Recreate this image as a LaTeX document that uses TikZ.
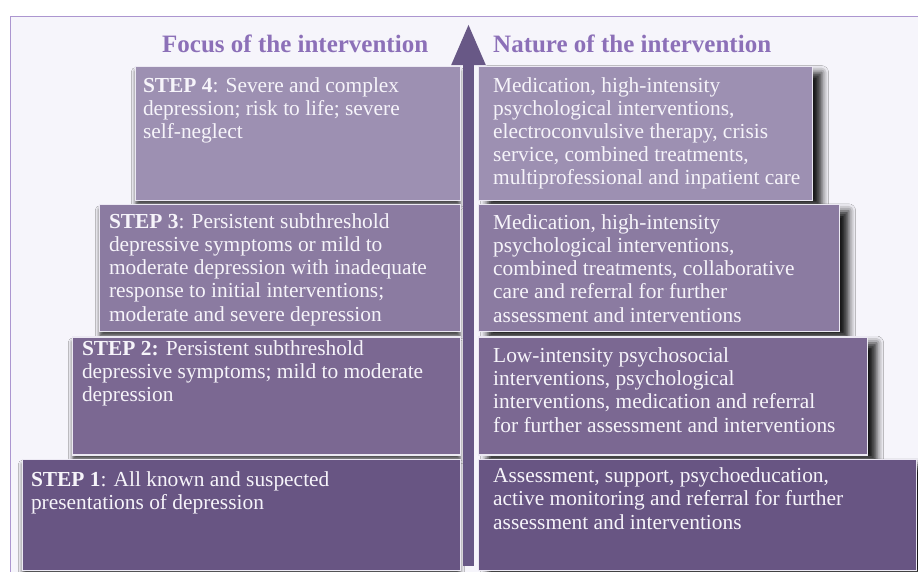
\documentclass[tikz,border=0pt]{standalone}
\usepackage{fontspec}
\setmainfont{Liberation Serif}
\usepackage{tikz}
\usetikzlibrary{
    arrows.meta,
    positioning,
    shadows.blur
}
\definecolor{stepfour}{RGB}{157,144,178}
\definecolor{stepthree}{RGB}{139,123,161}
\definecolor{steptwo}{RGB}{123,104,146}
\definecolor{stepone}{RGB}{104,85,131}
\definecolor{stairarrow}{RGB}{104,88,134}
\definecolor{stairhead}{RGB}{140,112,184}
\definecolor{stairframe}{RGB}{172,150,208}
\definecolor{stairback}{RGB}{246,245,251}
\definecolor{stairedge}{RGB}{236,233,243}
\definecolor{stairtext}{RGB}{246,244,250}

\begin{document}
\begin{tikzpicture}[
        x=1pt, y=-1pt,
        stairbox/.style={
            draw=stairedge,
            line width=1.2pt,
            inner sep=0pt
        },
        focusbox/.style={
            stairbox,
            blur shadow={shadow xshift=0pt, shadow yshift=-5pt,
                shadow blur radius=4pt, shadow opacity=70}
        },
        naturebox/.style={
            stairbox,
            blur shadow={shadow xshift=9pt, shadow yshift=-6pt,
                shadow blur radius=7pt, shadow opacity=90}
        },
        boxtext/.style={
            text=stairtext,
            align=left,
            inner sep=0pt,
            font=\fontsize{21.4}{23.2}\selectfont
        },
        heading/.style={
            text=stairhead,
            inner sep=0pt,
            anchor=base west,
            font=\fontsize{25}{28}\selectfont\bfseries
        },
        uparrow/.style={
            -{Triangle[length=42pt,width=31pt]},
            line width=11pt,
            draw=stairarrow
        }
    ]

    \useasboundingbox (0,0) rectangle (918,571);
    \draw[draw=stairframe, line width=1.5pt, fill=stairback]
        (10.5,16.5) rectangle (940,600);

    \node[heading] (focus) at (162,52) {Focus of the intervention};
    \node[heading] (nature) at (493,52) {Nature of the intervention};

    % left column, stacked downwards from step 4
    \node[focusbox, fill=stepfour, minimum width=325pt, minimum height=134pt,
        anchor=north east] (l4) at (461,66) {};
    \node[focusbox, fill=stepthree, minimum width=361pt, minimum height=127pt,
        below=3pt of l4.south east, anchor=north east] (l3) {};
    \node[focusbox, fill=steptwo, minimum width=388pt, minimum height=118pt,
        below=4pt of l3.south east, anchor=north east] (l2) {};
    \node[focusbox, fill=stepone, minimum width=438pt, minimum height=111pt,
        below=3pt of l2.south east, anchor=north east] (l1) {};

    % right column
    \node[naturebox, fill=stepfour, minimum width=334pt, minimum height=134pt,
        right=17pt of l4.north east, anchor=north west] (r4) {};
    \node[naturebox, fill=stepthree, minimum width=361pt, minimum height=127pt,
        right=17pt of l3.north east, anchor=north west] (r3) {};
    \node[naturebox, fill=steptwo, minimum width=389pt, minimum height=118pt,
        right=17pt of l2.north east, anchor=north west] (r2) {};
    \node[naturebox, fill=stepone, minimum width=438pt, minimum height=111pt,
        right=17pt of l1.north east, anchor=north west] (r1) {};

    \node[boxtext, below right=11pt and 8pt of l4.north west] (l4text) {
        \textbf{STEP 4}: Severe and complex\\
        depression; risk to life; severe\\
        self-neglect};
    \node[boxtext, below right=9pt and 10pt of l3.north west] (l3text) {
        \textbf{STEP 3}: Persistent subthreshold\\
        depressive symptoms or mild to\\
        moderate depression with inadequate\\
        response to initial interventions;\\
        moderate and severe depression};
    \node[boxtext, below right=4pt and 10pt of l2.north west] (l2text) {
        \textbf{STEP 2:} Persistent subthreshold\\
        depressive symptoms; mild to moderate\\
        depression};
    \node[boxtext, below right=13pt and 9pt of l1.north west] (l1text) {
        \textbf{STEP 1}: All known and suspected\\
        presentations of depression};

    \node[boxtext, below right=11pt and 15pt of r4.north west] (r4text) {
        Medication, high-intensity\\
        psychological interventions,\\
        electroconvulsive therapy, crisis\\
        service, combined treatments,\\
        multiprofessional and inpatient care};
    \node[boxtext, below right=10pt and 15pt of r3.north west] (r3text) {
        Medication, high-intensity\\
        psychological interventions,\\
        combined treatments, collaborative\\
        care and referral for further\\
        assessment and interventions};
    \node[boxtext, below right=11pt and 15pt of r2.north west] (r2text) {
        Low-intensity psychosocial\\
        interventions, psychological\\
        interventions, medication and referral\\
        for further assessment and interventions};
    \node[boxtext, below right=9pt and 15pt of r1.north west] (r1text) {
        Assessment, support, psychoeducation,\\
        active monitoring and referral for further\\
        assessment and interventions};

    % the step arrow between the two columns
    \coordinate (arrowfoot) at (468.5,566);
    \coordinate (arrowtip) at (468.5,23);
    \draw[uparrow] (arrowfoot) -- (arrowtip);

\end{tikzpicture}
\end{document}
